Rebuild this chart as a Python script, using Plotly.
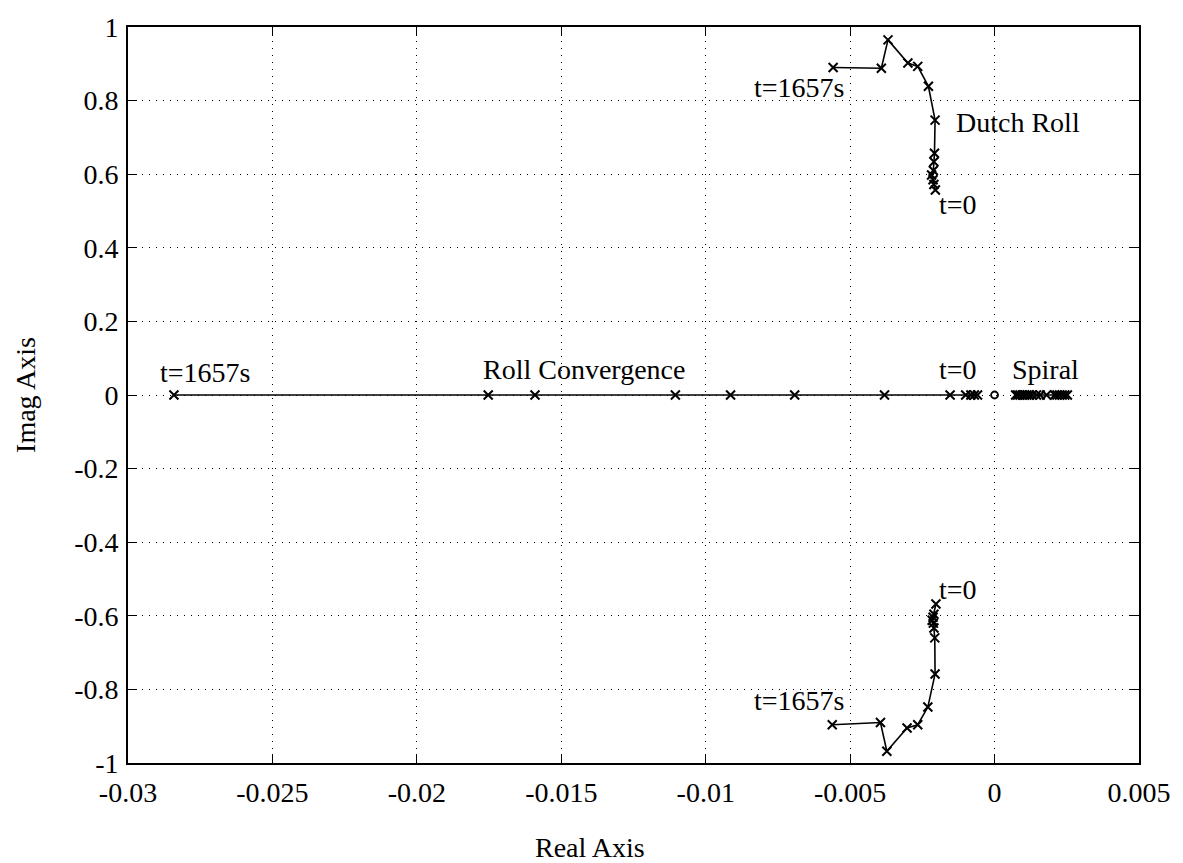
import plotly.graph_objects as go

# Dutch roll, upper branch (t=0 -> t=1657s)
dr_up_x = [-0.00205, -0.00210, -0.00213, -0.00218, -0.00212, -0.00210, -0.00208, -0.00206,
           -0.00229, -0.00266, -0.00300, -0.00369, -0.00392, -0.00559]
dr_up_y = [0.557, 0.572, 0.585, 0.598, 0.610, 0.634, 0.657, 0.747,
           0.839, 0.893, 0.902, 0.965, 0.888, 0.890]
# Dutch roll, lower branch (t=0 -> t=1657s)
dr_lo_x = [-0.00203, -0.00210, -0.00213, -0.00216, -0.00212, -0.00210, -0.00207, -0.00206,
           -0.00231, -0.00266, -0.00303, -0.00373, -0.00395, -0.00562]
dr_lo_y = [-0.568, -0.596, -0.604, -0.612, -0.620, -0.633, -0.660, -0.758,
           -0.848, -0.896, -0.905, -0.968, -0.890, -0.896]
# Roll convergence (t=0 -> t=1657s)
roll_x = [-0.00059, -0.00070, -0.00082, -0.00100, -0.00154, -0.00381, -0.00692,
          -0.00914, -0.01105, -0.01591, -0.01753, -0.02841]
roll_y = [0.0] * len(roll_x)
# Spiral
spiral_x = [0.00073, 0.00080, 0.00088, 0.00096, 0.00104, 0.00112, 0.00121, 0.00130,
            0.00145, 0.00158, 0.00180, 0.00208, 0.00216, 0.00225, 0.00234, 0.00243, 0.00252]
spiral_y = [0.0] * len(spiral_x)
# Zero
zero_x = [0.0]
zero_y = [0.0]

x_ticks = [-0.03, -0.025, -0.02, -0.015, -0.01, -0.005, 0, 0.005]
x_tick_text = ["-0.03", "-0.025", "-0.02", "-0.015", "-0.01", "-0.005", "0", "0.005"]
y_ticks = [-1, -0.8, -0.6, -0.4, -0.2, 0, 0.2, 0.4, 0.6, 0.8, 1]
y_tick_text = ["-1", "-0.8", "-0.6", "-0.4", "-0.2", "0", "0.2", "0.4", "0.6", "0.8", "1"]

labels = [
    ("t=1657s", -0.00678, 0.836),
    ("Dutch Roll", 0.00080, 0.741),
    ("t=0", -0.00127, 0.518),
    ("t=0", -0.00127, -0.528),
    ("t=1657s", -0.00678, -0.830),
    ("t=1657s", -0.02735, 0.062),
    ("Roll Convergence", -0.01422, 0.068),
    ("t=0", -0.00127, 0.068),
    ("Spiral", 0.00176, 0.068),
]

FONT = "Liberation Serif"
FS = 28

mk = dict(symbol="x-thin", size=9, line=dict(width=2, color="black"), color="black")
ln = dict(color="black", width=1.6)

fig = go.Figure()
for xs, ys in [(dr_up_x, dr_up_y), (dr_lo_x, dr_lo_y), (roll_x, roll_y), (spiral_x, spiral_y)]:
    fig.add_trace(go.Scatter(x=xs, y=ys, mode="lines+markers", line=ln, marker=mk,
                             showlegend=False, hoverinfo="skip"))
fig.add_trace(go.Scatter(x=zero_x, y=zero_y, mode="markers",
                         marker=dict(symbol="circle-open", size=7, color="black",
                                     line=dict(width=1.8, color="black")),
                         showlegend=False, hoverinfo="skip"))

for txt, x, y in labels:
    fig.add_annotation(x=x, y=y, text=txt, showarrow=False, xref="x", yref="y",
                       font=dict(family=FONT, size=FS, color="black"))

fig.add_annotation(text="Real Axis", x=0.457, y=-(848 - 763) / (763 - 21),
                   xref="paper", yref="paper", yanchor="middle",
                   showarrow=False, font=dict(family=FONT, size=FS, color="black"))

axis_common = dict(
    showline=True, linecolor="black", linewidth=1.6, mirror="ticks",
    ticks="inside", ticklen=9, tickwidth=1.2, tickcolor="black",
    showgrid=True, gridcolor="black", gridwidth=1, griddash="1px,6px",
    zeroline=False, tickfont=dict(family=FONT, size=FS, color="black"),
)

fig.update_xaxes(range=[-0.03, 0.005], tickvals=x_ticks, ticktext=x_tick_text,
                 ticklabelstandoff=4, **axis_common)
fig.update_yaxes(range=[-1, 1], tickvals=y_ticks, ticktext=y_tick_text,
                 ticklabelstandoff=2,
                 title=dict(text="Imag Axis", font=dict(family=FONT, size=FS, color="black"), standoff=30),
                 **axis_common)

fig.update_layout(
    width=1183, height=863,
    margin=dict(l=128, r=39, t=21, b=100),
    plot_bgcolor="white", paper_bgcolor="white",
)

fig.write_html("out.html")
